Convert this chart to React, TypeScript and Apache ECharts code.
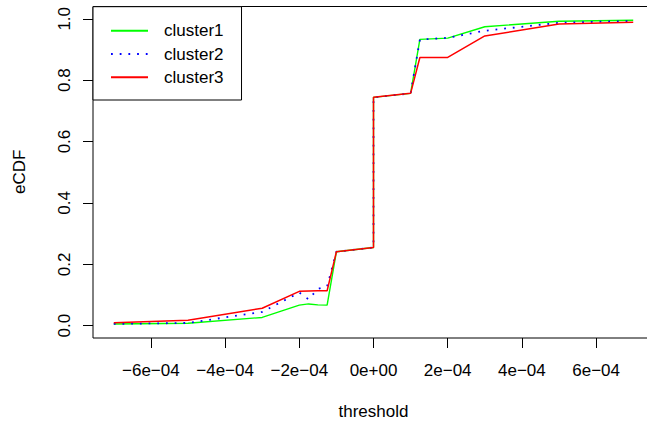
import React, { useEffect, useRef } from "react";
import * as echarts from "echarts";

// thresholds (x) at which the eCDFs were evaluated
const thresholds = [-7e-4, -5e-4, -3e-4, -2e-4, -1.75e-4, -1.5e-4, -1.25e-4, -1e-4, 0, 0, 1e-4, 1.25e-4, 2e-4, 3e-4, 5e-4, 7e-4];
const cluster1 = [0.0055, 0.008, 0.027, 0.067, 0.071, 0.068, 0.067, 0.241, 0.255, 0.744, 0.757, 0.933, 0.937, 0.974, 0.992, 0.995];
const cluster2 = [0.006, 0.009, 0.045, 0.108, 0.086, 0.12, 0.128, 0.241, 0.255, 0.744, 0.757, 0.932, 0.938, 0.961, 0.987, 0.993];
const cluster3 = [0.010, 0.018, 0.057, 0.112, 0.113, 0.114, 0.114, 0.241, 0.255, 0.744, 0.757, 0.874, 0.874, 0.944, 0.983, 0.989];

const seriesNames = ["cluster1", "cluster2", "cluster3"];
const xTickValues = [-6e-4, -4e-4, -2e-4, 0, 2e-4, 4e-4, 6e-4];
const xTickLabels = ["\u22126e\u221204", "\u22124e\u221204", "\u22122e\u221204", "0e+00", "2e\u221204", "4e\u221204", "6e\u221204"];
const yTickValues = [0, 0.2, 0.4, 0.6, 0.8, 1.0];
const yTickLabels = ["0.0", "0.2", "0.4", "0.6", "0.8", "1.0"];

const FONT = "'Liberation Sans', Arial, Helvetica, sans-serif";

function pairs(ys: number[]) {
  return thresholds.map((x, i) => [x, ys[i]]);
}

export default function App() {
  const ref = useRef<HTMLDivElement>(null);
  useEffect(() => {
    if (!ref.current) return;
    const chart = echarts.init(ref.current, null, { renderer: "svg" });
    const labelFor = (vals: number[], labels: string[]) => (v: number) => {
      let best = 0;
      for (let i = 0; i < vals.length; i++) {
        if (Math.abs(vals[i] - v) < Math.abs(vals[best] - v)) best = i;
      }
      return labels[best];
    };
    chart.setOption({
      animation: false,
      backgroundColor: "#ffffff",
      textStyle: { fontFamily: FONT },
      grid: {
        show: true,
        left: 93,
        top: 6.5,
        width: 561,
        height: 331.5,
        borderColor: "#000000",
        borderWidth: 1,
        backgroundColor: "transparent",
        containLabel: false,
        outerBoundsMode: "none",
      },
      xAxis: {
        type: "value",
        min: -7.56e-4,
        max: 7.56e-4,
        axisLine: { show: false, onZero: false },
        splitLine: { show: false },
        axisTick: {
          show: true,
          inside: false,
          length: 10,
          customValues: xTickValues,
          lineStyle: { color: "#000000", width: 1 },
        },
        axisLabel: {
          show: true,
          customValues: xTickValues,
          formatter: labelFor(xTickValues, xTickLabels),
          margin: 24,
          fontSize: 17,
          color: "#000000",
          fontFamily: FONT,
        },
      },
      yAxis: {
        type: "value",
        min: -0.04,
        max: 1.04,
        axisLine: { show: false, onZero: false },
        splitLine: { show: false },
        axisTick: {
          show: true,
          inside: false,
          length: 10,
          customValues: yTickValues,
          lineStyle: { color: "#000000", width: 1 },
        },
        axisLabel: {
          show: true,
          customValues: yTickValues,
          formatter: labelFor(yTickValues, yTickLabels),
          rotate: 90,
          margin: 20,
          fontSize: 17,
          color: "#000000",
          fontFamily: FONT,
        },
      },
      legend: {
        show: true,
        orient: "vertical",
        left: 93,
        top: 6.7,
        padding: [15.5, 18, 14.2, 17],
        itemWidth: 37,
        itemHeight: 17,
        itemGap: 6.3,
        borderColor: "#000000",
        borderWidth: 1,
        backgroundColor: "#ffffff",
        align: "left",
        data: seriesNames,
        itemStyle: { color: "rgba(0,0,0,0)", borderColor: "rgba(0,0,0,0)", borderWidth: 0, opacity: 0 },
        textStyle: {
          fontSize: 17,
          color: "#000000",
          fontFamily: FONT,
          padding: [0, 0, 0, 11],
        },
      },
      graphic: [
        {
          type: "text",
          x: 373.5,
          y: 411.8,
          style: {
            text: "threshold",
            fontSize: 17,
            fontFamily: FONT,
            fill: "#000000",
            textAlign: "center",
            textVerticalAlign: "middle",
          },
        },
        {
          type: "text",
          x: 19.1,
          y: 171.7,
          rotation: Math.PI / 2,
          style: {
            text: "eCDF",
            fontSize: 17,
            fontFamily: FONT,
            fill: "#000000",
            textAlign: "center",
            textVerticalAlign: "middle",
          },
        },
      ],
      series: [
        {
          name: seriesNames[0],
          type: "line",
          data: pairs(cluster1),
          showSymbol: false,
          symbol: "none",
          color: "#00ff00",
          lineStyle: { color: "#00ff00", width: 1.4 },
          z: 2,
        },
        {
          name: seriesNames[1],
          type: "line",
          data: pairs(cluster2),
          showSymbol: false,
          symbol: "none",
          color: "#0000ff",
          lineStyle: { color: "#0000ff", width: 1.8, type: [1.8, 6.9], cap: "butt" },
          z: 3,
        },
        {
          name: seriesNames[2],
          type: "line",
          data: pairs(cluster3),
          showSymbol: false,
          symbol: "none",
          color: "#ff0000",
          lineStyle: { color: "#ff0000", width: 1.5 },
          z: 4,
        },
      ],
    });
    return () => chart.dispose();
  }, []);
  return (
    <div
      ref={ref}
      style={{ position: "absolute", left: 0, top: 0, width: 647, height: 423 }}
    />
  );
}
